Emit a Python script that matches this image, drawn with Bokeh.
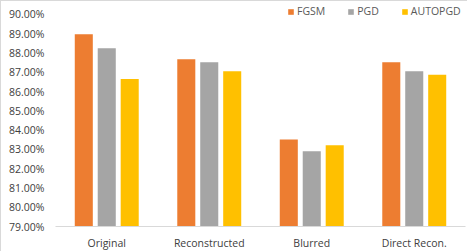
from bokeh.plotting import figure
from bokeh.models import ColumnDataSource, FactorRange, Range1d, FixedTicker, Legend, LegendItem, CustomJSTickFormatter
from bokeh.transform import dodge
from bokeh.embed import file_html
from bokeh.resources import INLINE

categories = ["Original", "Reconstructed", "Blurred", "Direct Recon."]
fgsm = [88.97, 87.68, 83.52, 87.52]
pgd = [88.25, 87.52, 82.90, 87.05]
autopgd = [86.65, 87.05, 83.22, 86.88]
y_ticks = [79, 80, 81, 82, 83, 84, 85, 86, 87, 88, 89, 90]

series_names = ["FGSM", "PGD", "AUTOPGD"]
colors = ["#ED7D31", "#A5A5A5", "#FFC000"]

src = ColumnDataSource(dict(cat=categories, FGSM=fgsm, PGD=pgd, AUTOPGD=autopgd))

FONT = "Open Sans"
TXT = "#404040"

p = figure(x_range=FactorRange(*categories, range_padding=0), y_range=Range1d(79, 90.6745),
           width=467, height=251, output_backend="svg", toolbar_location=None,
           min_border_left=54, min_border_right=3, min_border_top=0, min_border_bottom=26)
p.styles = {"border-top": "1px solid #D9D9D9", "border-left": "1px solid #D9D9D9"}

offsets = [-0.224, 0.0, 0.224]
renderers = []
for name, col, off in zip(series_names, colors, offsets):
    r = p.vbar(x=dodge("cat", off, range=p.x_range), top=name, bottom=79, width=0.176,
               source=src, fill_color=col, line_color=None)
    renderers.append(r)

p.xgrid.visible = False
p.ygrid.visible = False
p.outline_line_color = None
p.background_fill_color = "white"
p.border_fill_color = "white"

p.yaxis.ticker = FixedTicker(ticks=y_ticks)
p.yaxis.formatter = CustomJSTickFormatter(code="return tick.toFixed(2) + '%';")
p.yaxis.axis_line_color = None
p.yaxis.major_tick_line_color = None
p.yaxis.minor_tick_line_color = None
p.yaxis.major_tick_out = 0
p.yaxis.major_tick_in = 0
p.yaxis.minor_tick_out = 0
p.yaxis.major_label_standoff = 11
p.yaxis.major_label_text_font = FONT
p.yaxis.major_label_text_font_size = "10.5px"
p.yaxis.major_label_text_color = TXT

p.xaxis.axis_line_color = "#D9D9D9"
p.xaxis.axis_line_width = 1
p.xaxis.major_tick_line_color = None
p.xaxis.minor_tick_line_color = None
p.xaxis.major_tick_out = 0
p.xaxis.major_tick_in = 0
p.xaxis.minor_tick_out = 0
p.xaxis.major_label_standoff = 9
p.xaxis.major_label_text_font = FONT
p.xaxis.major_label_text_font_size = "10.5px"
p.xaxis.major_label_text_color = TXT

legend = Legend(items=[LegendItem(label=n, renderers=[r]) for n, r in zip(series_names, renderers)],
                orientation="horizontal", location=(232, 208),
                glyph_width=7, glyph_height=7, label_height=7, label_standoff=3, spacing=22,
                padding=0, margin=0, border_line_color=None, background_fill_alpha=0,
                label_text_font=FONT, label_text_font_size="10.5px", label_text_color="#595959")
p.add_layout(legend)

open("out.html", "w").write(file_html(p, INLINE))
